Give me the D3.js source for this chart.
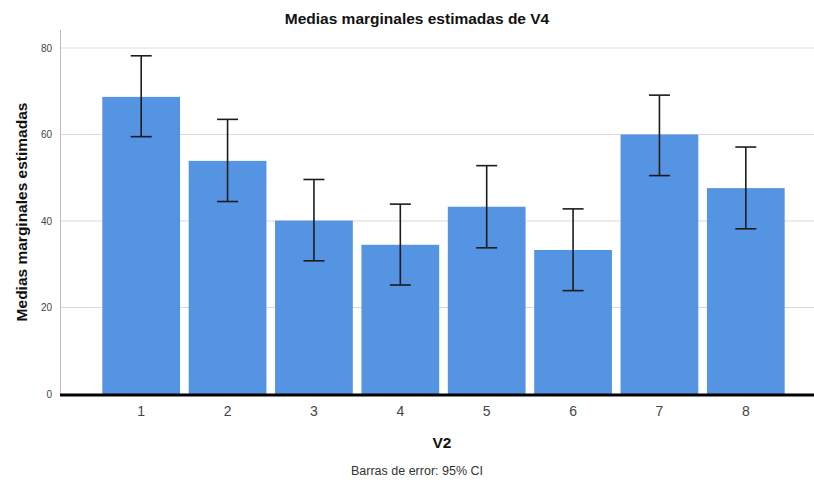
<!DOCTYPE html>
<html>
<head>
<meta charset="utf-8">
<script src="https://cdn.jsdelivr.net/npm/d3@7"></script>
<style>
  body { margin: 0; background: #fff; }
  svg { display: block; }
  text { font-family: "Liberation Sans", Arial, sans-serif; }
</style>
</head>
<body>
<svg id="chart" width="814" height="483"></svg>
<script>
const categories = ["1", "2", "3", "4", "5", "6", "7", "8"];
const means = [68.7, 53.9, 40.1, 34.5, 43.3, 33.3, 60.0, 47.6];
const ciLow = [59.5, 44.5, 30.8, 25.2, 33.8, 23.9, 50.5, 38.2];
const ciHigh = [78.2, 63.5, 49.6, 43.9, 52.8, 42.8, 69.1, 57.1];
const yTicks = [0, 20, 40, 60, 80];

const svg = d3.select("#chart");
const plotLeft = 60, plotRight = 814, plotTop = 30, plotBottom = 394;

const x = d3.scaleBand().domain(categories).range([98, 789]).paddingInner(0.1).paddingOuter(0.05);
const y = d3.scaleLinear().domain([0, 80]).range([plotBottom, 48]);

// gridlines
svg.append("g").selectAll("line").data(yTicks.filter(d => d > 0)).join("line")
  .attr("x1", plotLeft).attr("x2", plotRight)
  .attr("y1", d => y(d)).attr("y2", d => y(d))
  .attr("stroke", "#d9d9d9").attr("stroke-width", 1);

// left axis line
svg.append("line").attr("x1", plotLeft + 0.5).attr("x2", plotLeft + 0.5)
  .attr("y1", plotTop).attr("y2", plotBottom)
  .attr("stroke", "#bdbdbd").attr("stroke-width", 1);

// y tick labels
const yAxis = d3.axisLeft(y).tickValues(yTicks).tickSize(0).tickPadding(8);
const yg = svg.append("g").attr("transform", `translate(${plotLeft},0)`).call(yAxis);
yg.select(".domain").remove();
yg.selectAll("text").attr("font-size", 10).attr("fill", "#444")
  .style("font-family", "Liberation Sans, Arial, sans-serif");

// bars
svg.append("g").selectAll("rect").data(categories).join("rect")
  .attr("x", d => x(d)).attr("width", x.bandwidth())
  .attr("y", (d, i) => y(means[i]))
  .attr("height", (d, i) => y(0) - y(means[i]))
  .attr("fill", "#5593e3");

// error bars
const capW = 21;
const eg = svg.append("g").attr("stroke", "#1c1c1c").attr("stroke-width", 1.6);
categories.forEach((c, i) => {
  const cx = x(c) + x.bandwidth() / 2;
  eg.append("line").attr("x1", cx).attr("x2", cx).attr("y1", y(ciLow[i])).attr("y2", y(ciHigh[i]));
  eg.append("line").attr("x1", cx - capW / 2).attr("x2", cx + capW / 2).attr("y1", y(ciHigh[i])).attr("y2", y(ciHigh[i]));
  eg.append("line").attr("x1", cx - capW / 2).attr("x2", cx + capW / 2).attr("y1", y(ciLow[i])).attr("y2", y(ciLow[i]));
});

// baseline
svg.append("line").attr("x1", plotLeft).attr("x2", plotRight)
  .attr("y1", y(0) + 1).attr("y2", y(0) + 1)
  .attr("stroke", "#000").attr("stroke-width", 3);

// x tick labels
const xAxis = d3.axisBottom(x).tickSize(0).tickPadding(12);
const xg = svg.append("g").attr("transform", `translate(0,${plotBottom})`).call(xAxis);
xg.select(".domain").remove();
xg.selectAll("text").attr("font-size", 14).attr("fill", "#444")
  .style("font-family", "Liberation Sans, Arial, sans-serif");

// title
svg.append("text").attr("x", 417).attr("y", 24).attr("text-anchor", "middle")
  .attr("font-size", 15.5).attr("font-weight", "bold").attr("fill", "#111")
  .text("Medias marginales estimadas de V4");

// y label
svg.append("text").attr("transform", "translate(27,212) rotate(-90)")
  .attr("text-anchor", "middle").attr("font-size", 15.5).attr("font-weight", "bold").attr("fill", "#111")
  .text("Medias marginales estimadas");

// x label
svg.append("text").attr("x", 442).attr("y", 448).attr("text-anchor", "middle")
  .attr("font-size", 15.5).attr("font-weight", "bold").attr("fill", "#111")
  .text("V2");

// footer
svg.append("text").attr("x", 417).attr("y", 475).attr("text-anchor", "middle")
  .attr("font-size", 12.5).attr("fill", "#333")
  .text("Barras de error: 95% CI");
</script>
</body>
</html>
